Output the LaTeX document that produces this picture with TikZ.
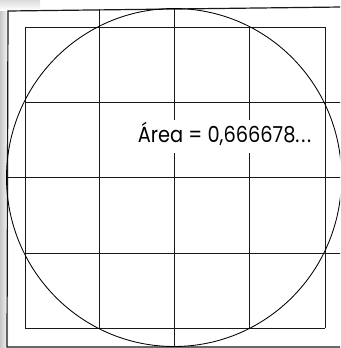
\documentclass[tikz,border=0pt]{standalone}
\usepackage{fontspec}
\newfontfamily\geofont{Poppins}
\begin{document}
\begin{tikzpicture}[x=1pt,y=-1pt,
  ln/.style={line width=0.95pt,black!90},
  cl/.style={line width=0.85pt,black},
  lbl/.style={font=\geofont\fontsize{22}{24}\selectfont,text=black,inner sep=0pt,anchor=base}]
\useasboundingbox (0,0) rectangle (340,348);
\clip (0,0) rectangle (340,348);
% scan shading on the left
\shade[left color=black!22,right color=white] (0,0) rectangle (9,348);
\shade[top color=black!14,bottom color=white] (0,0) rectangle (40,10);
% outer frame
\coordinate (otl) at (8,11);
\coordinate (otr) at (342,7);
\coordinate (obl) at (7,347);
\coordinate (obr) at (342,347);
\draw[ln,line width=1.2pt] (otr) -- (otl) -- (obl) -- (obr);
% inner 4x4 grid
\foreach \x in {25,99,174,249,325} \draw[ln] (\x,27) -- (\x,328);
\foreach \y in {27,102,177,253,328} \draw[ln] (25,\y) -- (325,\y);
% extensions to the outer frame
\draw[ln] (99,9) -- (99,27);
\draw[ln] (174,9) -- (174,27);
\draw[ln] (174,328) -- (174,347);
\draw[ln] (7.5,177) -- (25,177);
\foreach \y in {102,177,253} \draw[ln] (325,\y) -- (342,\y);
% circle
\coordinate (c) at (174,177.5);
\draw[cl] (c) ellipse [x radius=167.5, y radius=169];
% label
\fill[white] (131,120) rectangle (318,153);
\node[lbl] (area) at (224.5,142) {\scalebox{0.88}[1]{Área = 0,666678.\kern2pt.\kern2pt.}};
\end{tikzpicture}
\end{document}
